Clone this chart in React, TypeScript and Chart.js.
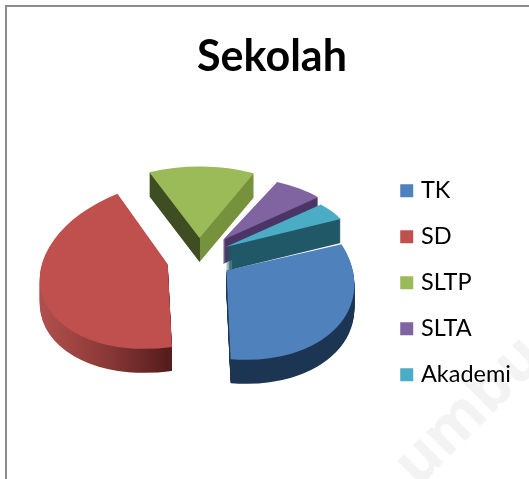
import React, { useEffect, useRef } from "react";
import { Chart, registerables } from "chart.js";

Chart.register(...registerables);

const categories = ["TK", "SD", "SLTP", "SLTA", "Akademi"];
const shares = [31.7, 44.1, 13.4, 6.4, 4.4];
const topColors = ["#4f81bd", "#c0504d", "#9bbb59", "#8064a2", "#4bacc6"];
const chartTitle = "Sekolah";

// Look of the tilted pie: how each slice is foreshortened, and its side wall.
const tiltCentre = { x: 199, y: 256 };
const explode = [32, 32, 32, 40, 32];
const tiltY = [0.69, 0.65, 0.56, 0.5, 0.5];
const shearY = [0.11, -0.12, 0, 0, 0];
const wallStops: [number, string][][] = [
  [[0, "#1b3553"], [1, "#1b3553"]],
  [[0, "#b0504d"], [0.25, "#8c3a38"], [0.5, "#561d1d"], [1, "#561d1d"]],
  [[0, "#3f4e22"], [0.5, "#3f4e22"], [0.5, "#76923c"], [1, "#76923c"]],
  [[0, "#4a3566"], [1, "#4a3566"]],
  [[0, "#215868"], [1, "#215868"]],
];
const paintOrder = [2, 3, 0, 4, 1];
const wallDepth = 24;

const tiltedPie = {
  id: "tiltedPie",
  beforeDatasetDraw() {
    return false;
  },
  beforeDatasetsDraw(chart: any) {
    const { ctx } = chart;
    const arcs = chart.getDatasetMeta(0).data;
    const paintArc = (arc: any, i: number, fill: any, drop: number) => {
      const base = arc.options;
      const mid = (arc.startAngle + arc.endAngle) / 2;
      arc.options = Object.create(base, {
        backgroundColor: { value: fill },
        borderWidth: { value: 0 },
      });
      ctx.save();
      ctx.translate(tiltCentre.x, tiltCentre.y + drop);
      ctx.transform(1, shearY[i], 0, tiltY[i], 0, 0);
      ctx.translate(Math.cos(mid) * explode[i] - arc.x, Math.sin(mid) * explode[i] - arc.y);
      arc.draw(ctx);
      ctx.restore();
      arc.options = base;
    };
    for (const i of paintOrder) {
      const arc = arcs[i];
      const wall = ctx.createLinearGradient(arc.x - arc.outerRadius, 0, arc.x + arc.outerRadius, 0);
      for (const [at, colour] of wallStops[i]) wall.addColorStop(at, colour);
      for (let d = wallDepth; d >= 1; d--) paintArc(arc, i, wall, d);
      paintArc(arc, i, topColors[i], 0);
    }
  },
};

const watermark = {
  id: "watermark",
  beforeDraw(chart: any) {
    const { ctx } = chart;
    ctx.save();
    ctx.translate(418, 488);
    ctx.rotate(-Math.PI / 4);
    ctx.font = "bold 62px 'Open Sans'";
    ctx.fillStyle = "#f3f3f3";
    ctx.fillText("umbu", 0, 0);
    ctx.restore();
  },
};

const legendItems = () =>
  categories.map((text, index) => ({
    text,
    index,
    fillStyle: topColors[index],
    strokeStyle: topColors[index],
    lineWidth: 8,
    fontColor: "#000",
    hidden: false,
  }));

export default function App() {
  const ref = useRef<HTMLCanvasElement>(null);
  useEffect(() => {
    const chart = new Chart(ref.current!, {
      type: "pie",
      data: {
        labels: categories,
        datasets: [
          {
            data: shares,
            backgroundColor: topColors,
            borderWidth: 0,
            radius: 128,
            rotation: 64,
          } as any,
        ],
      },
      options: {
        responsive: false,
        animation: false,
        layout: { padding: { left: 23, right: 8, top: 21, bottom: 0 } },
        plugins: {
          tooltip: { enabled: false },
          title: {
            display: true,
            text: chartTitle,
            color: "#000",
            font: { family: "Lato", size: 43, weight: "bold" },
            padding: { top: 10, bottom: 4 },
          },
          legend: {
            position: "right",
            fullSize: false,
            labels: {
              boxWidth: 5,
              boxHeight: 5,
              padding: 22.5,
              color: "#000",
              font: { family: "Lato", size: 23.5 },
              generateLabels: legendItems,
            },
          },
        },
      },
      plugins: [watermark, tiltedPie],
    } as any);
    return () => chart.destroy();
  }, []);
  return (
    <div style={{ position: "absolute", left: 0, top: 0, width: 529, height: 479, overflow: "hidden", background: "#fff" }}>
      <div style={{ position: "absolute", left: 5, top: 5, right: 0, bottom: 0, borderLeft: "2px solid #8c8c8c", borderTop: "2px solid #8c8c8c" }} />
      <canvas ref={ref} width={529} height={479} style={{ position: "absolute", left: 0, top: 0, display: "block", filter: "blur(0.5px)" }} />
    </div>
  );
}
